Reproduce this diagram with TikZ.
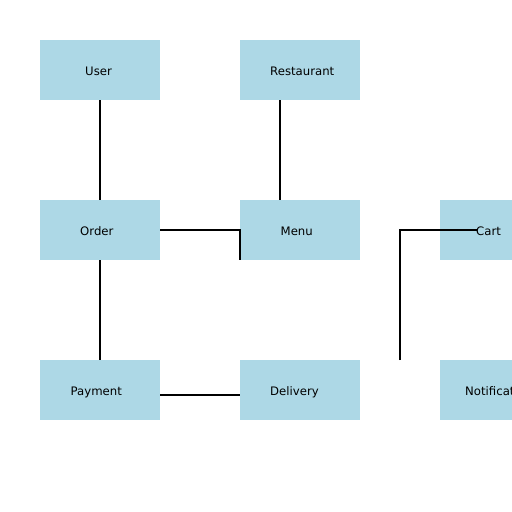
\documentclass[tikz,border=0pt]{standalone}
\usepackage{fontspec}
\setmainfont{DejaVu Sans}
\definecolor{boxblue}{HTML}{ADD8E6}
\begin{document}
\begin{tikzpicture}[x=1pt,y=-1pt,
  entity/.style={rectangle,fill=boxblue,draw=none,minimum width=120pt,minimum height=60pt,inner sep=0pt,outer sep=0pt},
  lbl/.style={anchor=base west,inner sep=0pt,font=\fontsize{11.7}{14}\selectfont},
  conn/.style={black,line width=2pt}]
\useasboundingbox (0,0) rectangle (512,512);
\node[entity] (user) at (100,70) {};
\node[entity] (restaurant) at (300,70) {};
\node[entity] (order) at (100,230) {};
\node[entity] (menu) at (300,230) {};
\node[entity] (cart) at (500,230) {};
\node[entity] (payment) at (100,390) {};
\node[entity] (delivery) at (300,390) {};
\node[entity] (notification) at (500,390) {};
\coordinate (cartfoot) at (400,360);
\coordinate (cartend) at (477,230);
\draw[conn] (user.south) -- (order.north);
\draw[conn] ([xshift=-20pt]restaurant.south) -- ([xshift=-20pt]menu.north);
\draw[conn] (order.east) -| (menu.south west);
\draw[conn] (order.south) -- (payment.north);
\draw[conn] ([yshift=-5pt]payment.east) -- ([yshift=-5pt]delivery.west);
\draw[conn] (cartfoot) |- (cartend);
\node[lbl] (userl) at (85,75) {User};
\node[lbl] (restaurantl) at (270,75) {Restaurant};
\node[lbl] (orderl) at (80,235) {Order};
\node[lbl] (menul) at (280.5,235) {Menu};
\node[lbl] (cartl) at (476,235) {Cart};
\node[lbl] (paymentl) at (70.5,395) {Payment};
\node[lbl] (deliveryl) at (270,395) {Delivery};
\node[lbl] (notificationl) at (465,395) {Notification};
\end{tikzpicture}
\end{document}
